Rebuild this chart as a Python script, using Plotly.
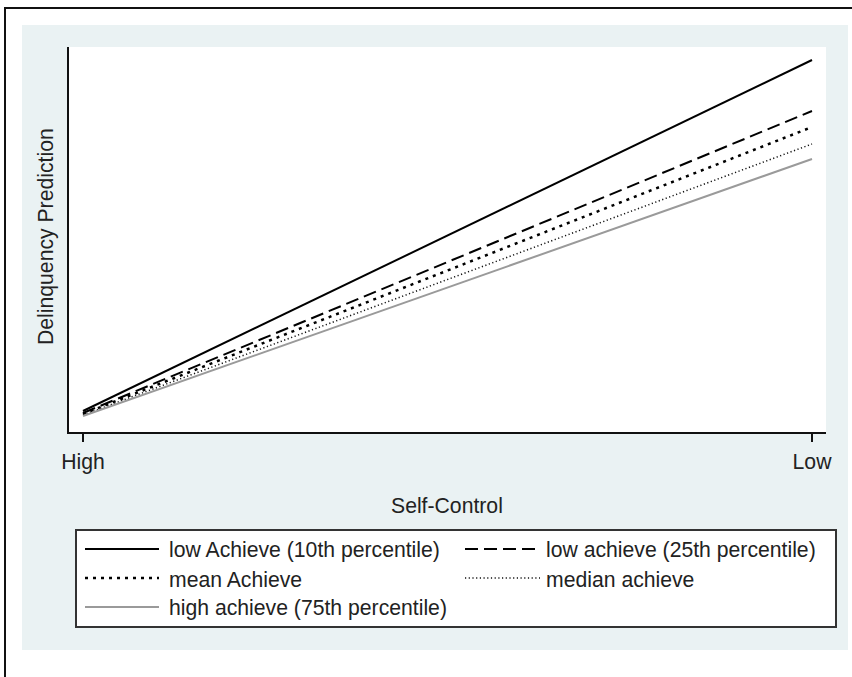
import plotly.graph_objects as go

# ---- data (y in arbitrary prediction units) ----
self_control = [0, 1]
tick_labels = ["High", "Low"]
series_names = [
    "low Achieve (10th percentile)",
    "low achieve (25th percentile)",
    "mean Achieve",
    "median achieve",
    "high achieve (75th percentile)",
]
low10 = [21, 372]
low25 = [19, 321]
mean_ach = [18, 305]
median_ach = [17, 288]
high75 = [16, 273]
series_values = [low10, low25, mean_ach, median_ach, high75]

# ---- styles ----
W, H = 852, 677
PL, PR, PT, PB = 69, 826, 47, 432  # plot area in pixels
FONT = "Liberation Sans, Arial, Helvetica, sans-serif"
FS = 21.2
TXT = "#222222"
BG = "#EAF2F3"
styles = [
    dict(color="#000000", width=2, dash="solid"),
    dict(color="#000000", width=2, dash="13px,6px"),
    dict(color="#000000", width=2.5, dash="3px,5px"),
    dict(color="#111111", width=1.5, dash="1.2px,2.5px"),
    dict(color="#9a9a9a", width=2, dash="solid"),
]


def px(xp):
    return (xp - PL) / (PR - PL)


def py(yp):
    return (PB - yp) / (PB - PT)


fig = go.Figure()
for name, vals, st in zip(series_names, series_values, styles):
    fig.add_trace(go.Scatter(x=self_control, y=vals, mode="lines", name=name,
                             line=st, showlegend=False, hoverinfo="skip"))

shapes = []
# outer blue region and white plot region
shapes.append(dict(type="rect", xref="paper", yref="paper", layer="below",
                   x0=px(22), x1=px(848), y0=py(650), y1=py(25),
                   fillcolor=BG, line=dict(width=0)))
shapes.append(dict(type="rect", xref="paper", yref="paper", layer="below",
                   x0=0, x1=1, y0=0, y1=1,
                   fillcolor="white", line=dict(width=0)))
# outer frame (left & top)
shapes.append(dict(type="line", xref="paper", yref="paper",
                   x0=px(5), x1=px(5), y0=py(8), y1=py(680),
                   line=dict(color="#111111", width=2)))
shapes.append(dict(type="line", xref="paper", yref="paper",
                   x0=px(4), x1=px(856), y0=py(8), y1=py(8),
                   line=dict(color="#111111", width=2)))
# legend box
shapes.append(dict(type="rect", xref="paper", yref="paper",
                   x0=px(76), x1=px(836), y0=py(627), y1=py(530),
                   fillcolor="white", line=dict(color="#333333", width=2)))

annotations = []
leg_pos = [(85, 159, 167, 549), (465, 540, 544, 549),
           (85, 159, 167, 578), (465, 540, 544, 578),
           (85, 159, 167, 607)]
for name, st, (lx0, lx1, tx, ly) in zip(series_names, styles, leg_pos):
    shapes.append(dict(type="line", xref="paper", yref="paper",
                       x0=px(lx0), x1=px(lx1), y0=py(ly), y1=py(ly),
                       line=st))
    annotations.append(dict(text=name, xref="paper", yref="paper",
                            x=px(tx), y=py(ly + 1), xanchor="left",
                            yanchor="middle", showarrow=False,
                            font=dict(family=FONT, size=FS, color=TXT)))

annotations.append(dict(text="Self-Control", xref="paper", yref="paper",
                        x=px(447), y=py(505), xanchor="center", yanchor="middle",
                        showarrow=False, font=dict(family=FONT, size=FS, color=TXT)))
annotations.append(dict(text="Delinquency Prediction", xref="paper", yref="paper",
                        x=px(46), y=py(237), xanchor="center", yanchor="middle",
                        textangle=-90, showarrow=False,
                        font=dict(family=FONT, size=FS, color=TXT)))

fig.update_layout(
    width=W, height=H,
    margin=dict(l=PL, r=W - PR, t=PT, b=H - PB, pad=0),
    paper_bgcolor="white", plot_bgcolor="white",
    shapes=shapes, annotations=annotations,
    font=dict(family=FONT, size=FS, color=TXT),
    xaxis=dict(range=[-14 / 729, 1 + 14 / 729], tickvals=self_control,
               ticktext=tick_labels, ticks="outside", ticklen=8, tickwidth=1.5,
               tickcolor="#111111", showline=True, linecolor="#111111",
               linewidth=2, showgrid=False, zeroline=False,
               ticklabelstandoff=2,
               tickfont=dict(family=FONT, size=FS, color=TXT)),
    yaxis=dict(range=[0, PB - PT], showticklabels=False, ticks="",
               showline=True, linecolor="#111111", linewidth=2,
               showgrid=False, zeroline=False),
    showlegend=False,
)

fig.write_html("out.html")
